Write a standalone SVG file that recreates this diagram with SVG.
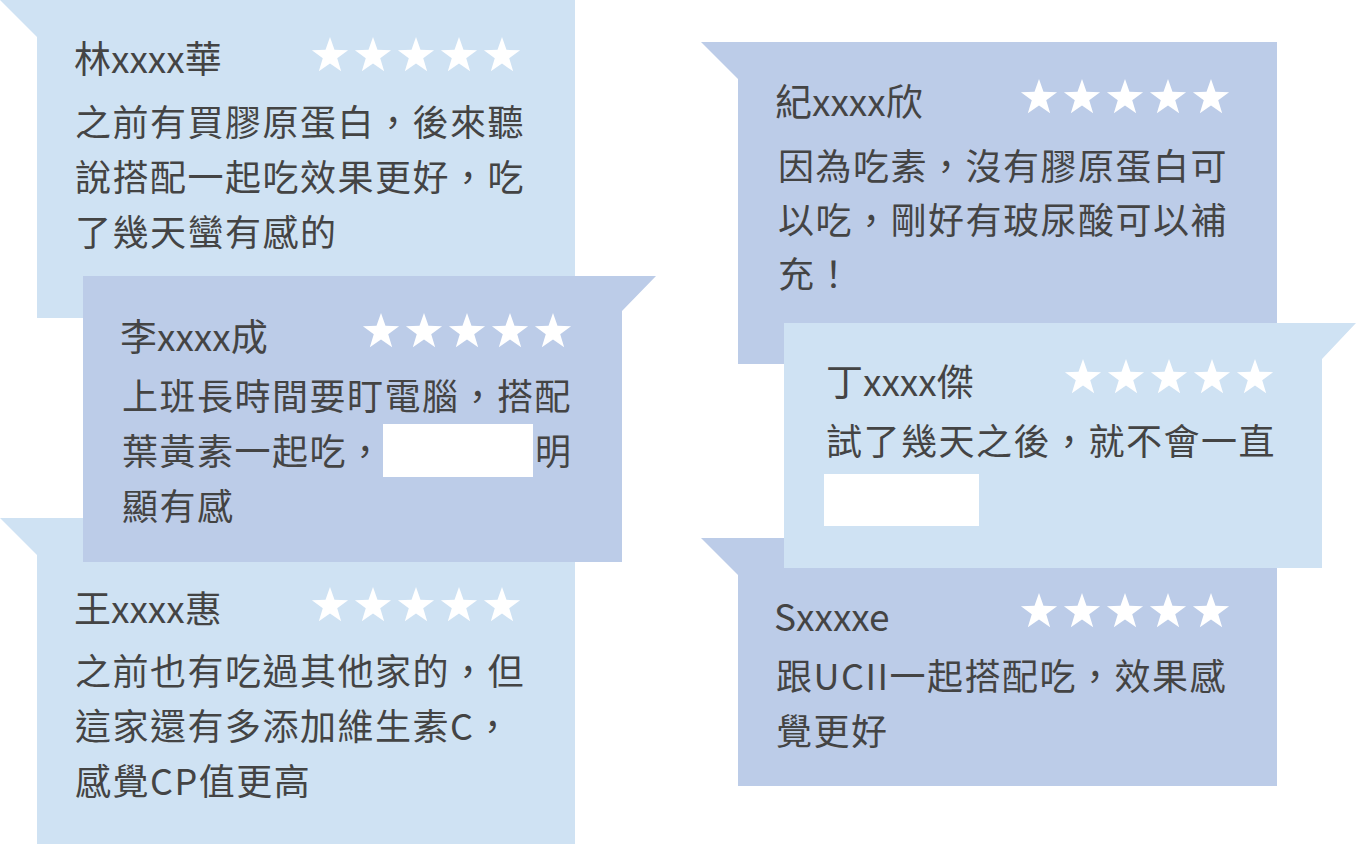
<svg xmlns="http://www.w3.org/2000/svg" xmlns:xlink="http://www.w3.org/1999/xlink" width="1358" height="844" viewBox="0 0 1358 844">
<style>
.l{fill:#cfe2f3}.d{fill:#bccce8}
text{font-family:"Noto Sans CJK TC","Noto Sans",sans-serif;fill:#444}
.n{font-size:37px}.b{font-size:36px;letter-spacing:1.5px}
.w{fill:#fff}
</style>
<defs>
<polygon id="s" fill="#fff" points="0,-19 4.47,-6.15 18.07,-5.87 7.23,2.35 11.17,15.37 0,7.6 -11.17,15.37 -7.23,2.35 -18.07,-5.87 -4.47,-6.15"/>
<g id="st"><use href="#s" x="0"/><use href="#s" x="43"/><use href="#s" x="86"/><use href="#s" x="129"/><use href="#s" x="172"/></g>
</defs>
<rect width="1358" height="844" fill="#fff"/>
<g id="b1">
<polygon class="l" points="0,0 575,0 575,318 37,318 37,37"/>
<text class="n" x="74" y="73">林xxxx華</text>
<use href="#st" x="330" y="56"/>
<text class="b" x="75" y="136">之前有買膠原蛋白，後來聽</text>
<text class="b" x="75" y="191">說搭配一起吃效果更好，吃</text>
<text class="b" x="75" y="246">了幾天蠻有感的</text>
</g>
<g id="b3">
<polygon class="l" points="0,518 575,518 575,844 37,844 37,555"/>
<text class="n" x="74" y="623">王xxxx惠</text>
<use href="#st" x="330" y="606"/>
<text class="b" x="75" y="685">之前也有吃過其他家的，但</text>
<text class="b" x="75" y="740">這家還有多添加維生素C，</text>
<text class="b" x="75" y="795">感覺CP值更高</text>
</g>
<g id="b2">
<polygon class="d" points="83,276 656,276 622,311 622,562 83,562"/>
<text class="n" x="120" y="351">李xxxx成</text>
<use href="#st" x="381" y="332"/>
<text class="b" x="122" y="410">上班長時間要盯電腦，搭配</text>
<text class="b" x="122" y="465">葉黃素一起吃，</text>
<rect class="w" x="383" y="424" width="150" height="53"/>
<text class="b" x="535" y="465">明</text>
<text class="b" x="122" y="520">顯有感</text>
</g>
<g id="b4">
<polygon class="d" points="701,42 1277,42 1277,364 738,364 738,79"/>
<text class="n" x="775" y="116">紀xxxx欣</text>
<use href="#st" x="1039" y="98"/>
<text class="b" x="778" y="180">因為吃素，沒有膠原蛋白可</text>
<text class="b" x="778" y="234">以吃，剛好有玻尿酸可以補</text>
<text class="b" x="778" y="288">充！</text>
</g>
<g id="b6">
<polygon class="d" points="701,538 1277,538 1277,786 738,786 738,575"/>
<text class="n" x="774" y="631">Sxxxxe</text>
<use href="#st" x="1039" y="612"/>
<text class="b" x="776" y="690">跟UCII一起搭配吃，效果感</text>
<text class="b" x="776" y="745">覺更好</text>
</g>
<g id="b5">
<polygon class="l" points="784,323 1356,323 1322,359 1322,568 784,568"/>
<text class="n" x="826" y="396">丁xxxx傑</text>
<use href="#st" x="1083" y="378"/>
<text class="b" x="826" y="455">試了幾天之後，就不會一直</text>
<rect class="w" x="824" y="474" width="155" height="52"/>
</g>
<g id="connectors"/>
</svg>
